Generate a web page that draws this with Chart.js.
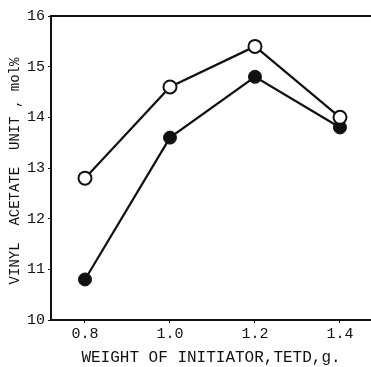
<!DOCTYPE html>
<html>
<head>
<meta charset="utf-8">
<script src="https://cdn.jsdelivr.net/npm/chart.js@4"></script>
<style>
  html, body { margin: 0; padding: 0; background: #fff; }
  #wrap { width: 371px; height: 367px; }
</style>
</head>
<body>
<div id="wrap"><canvas id="chart" width="371" height="367"></canvas></div>
<script>
const weights = [0.8, 1.0, 1.2, 1.4];
const openValues = [12.8, 14.6, 15.4, 14.0];
const filledValues = [10.8, 13.6, 14.8, 13.8];
const xTicks = [0.8, 1.0, 1.2, 1.4];
const yTicks = [10, 11, 12, 13, 14, 15, 16];

const font = "'Liberation Mono', 'DejaVu Sans Mono', monospace";

// top frame line and the rotated y label
const framePlugin = {
    id: 'frame',
    afterDraw(chart) {
        const { ctx, chartArea } = chart;
        ctx.save();
        ctx.strokeStyle = '#111';
        ctx.lineWidth = 2;
        ctx.beginPath();
        ctx.moveTo(chartArea.left, chartArea.top);
        ctx.lineTo(chart.width, chartArea.top);
        ctx.stroke();

        ctx.translate(15, (chartArea.top + chartArea.bottom) / 2 + 3);
        ctx.rotate(-Math.PI / 2);
        ctx.fillStyle = '#111';
        ctx.font = "14px " + font;
        ctx.textAlign = 'center';
        ctx.textBaseline = 'middle';
        ctx.fillText('VINYL  ACETATE  UNIT , mol%', 0, 0);
        ctx.restore();
    }
};

new Chart(document.getElementById('chart'), {
    type: 'line',
    data: {
        datasets: [
            {
                label: 'open',
                data: weights.map((w, i) => ({ x: w, y: openValues[i] })),
                borderColor: '#111',
                borderWidth: 2.2,
                pointRadius: 6.5,
                pointBackgroundColor: '#fff',
                pointBorderColor: '#111',
                pointBorderWidth: 2,
                tension: 0
            },
            {
                label: 'filled',
                data: weights.map((w, i) => ({ x: w, y: filledValues[i] })),
                borderColor: '#111',
                borderWidth: 2.2,
                pointRadius: 6.5,
                pointBackgroundColor: '#111',
                pointBorderColor: '#111',
                pointBorderWidth: 1,
                tension: 0
            }
        ]
    },
    options: {
        responsive: false,
        animation: false,
        layout: { autoPadding: false, padding: { top: 16, right: 0, left: 0, bottom: 0 } },
        plugins: {
            legend: { display: false },
            tooltip: { enabled: false }
        },
        scales: {
            x: {
                type: 'linear',
                min: 0.72,
                max: 1.473,
                afterBuildTicks: (scale) => { scale.ticks = xTicks.map(v => ({ value: v })); },
                afterFit: (scale) => {
                    scale.height = 47;
                    scale.paddingRight = 0;
                    scale.paddingLeft = 0;
                },
                grid: { drawOnChartArea: false, drawTicks: true, tickLength: 3, color: '#111' },
                border: { color: '#111', width: 2 },
                ticks: {
                    color: '#111',
                    font: { family: font, size: 15 },
                    padding: 2,
                    maxRotation: 0,
                    callback: (v) => v.toFixed(1)
                },
                title: {
                    display: true,
                    text: 'WEIGHT OF INITIATOR,TETD,g.',
                    color: '#111',
                    font: { family: font, size: 16 },
                    padding: { top: 4, bottom: 0 }
                }
            },
            y: {
                min: 10,
                max: 16,
                afterBuildTicks: (scale) => { scale.ticks = yTicks.map(v => ({ value: v })); },
                afterFit: (scale) => { scale.width = 51; },
                grid: { drawOnChartArea: false, drawTicks: true, tickLength: 3, color: '#111' },
                border: { color: '#111', width: 2 },
                ticks: {
                    color: '#111',
                    font: { family: font, size: 15 },
                    padding: 3
                }
            }
        }
    },
    plugins: [framePlugin]
});
</script>
</body>
</html>
